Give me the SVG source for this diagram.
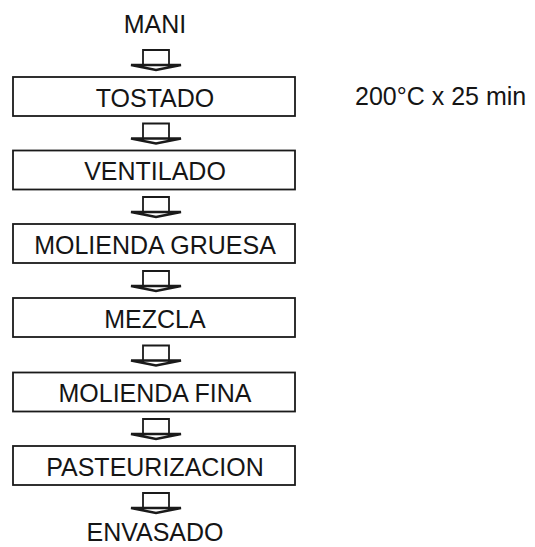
<svg xmlns="http://www.w3.org/2000/svg" xmlns:xlink="http://www.w3.org/1999/xlink" width="535" height="547" viewBox="0 0 535 547">
  <style>
    .box { fill: #ffffff; stroke: #1a1a1a; stroke-width: 1.8; }
    .lbl { font-family: "Liberation Sans", Arial, sans-serif; font-size: 25px; fill: #151515; text-anchor: middle; }
    .note { font-family: "Liberation Sans", Arial, sans-serif; font-size: 25px; fill: #151515; text-anchor: start; }
    .arrow { fill: none; stroke: #1a1a1a; stroke-width: 1.8; stroke-linejoin: miter; }
    .wing { fill: none; stroke: #1a1a1a; stroke-width: 2.4; }
  </style>
  <defs>
    <g id="blockArrow">
      <path class="arrow" d="M-13,-5 V-20 H13 V-5"/>
      <path class="wing" d="M-25,-5 H25 L0,0 Z"/>
    </g>
  </defs>
  <rect width="535" height="547" fill="#ffffff"/>

  <g id="connectors">
    <use xlink:href="#blockArrow" transform="translate(156,70)"/>
    <use xlink:href="#blockArrow" transform="translate(156,143.5)"/>
    <use xlink:href="#blockArrow" transform="translate(156,217)"/>
    <use xlink:href="#blockArrow" transform="translate(156,291)"/>
    <use xlink:href="#blockArrow" transform="translate(156,365.5)"/>
    <use xlink:href="#blockArrow" transform="translate(156,439)"/>
    <use xlink:href="#blockArrow" transform="translate(156,513)"/>
  </g>

  <g id="node-mani">
    <text class="lbl" x="155" y="33">MANI</text>
  </g>
  <g id="node-tostado">
    <rect class="box" x="13" y="77" width="282" height="39"/>
    <text class="lbl" x="155" y="106.5">TOSTADO</text>
  </g>
  <g id="node-ventilado">
    <rect class="box" x="13" y="150.5" width="282" height="39"/>
    <text class="lbl" x="155" y="180">VENTILADO</text>
  </g>
  <g id="node-molienda-gruesa">
    <rect class="box" x="13" y="224" width="282" height="39"/>
    <text class="lbl" x="155" y="253.5">MOLIENDA GRUESA</text>
  </g>
  <g id="node-mezcla">
    <rect class="box" x="13" y="298" width="282" height="39"/>
    <text class="lbl" x="155" y="327.5">MEZCLA</text>
  </g>
  <g id="node-molienda-fina">
    <rect class="box" x="13" y="372.5" width="282" height="39"/>
    <text class="lbl" x="155" y="402">MOLIENDA FINA</text>
  </g>
  <g id="node-pasteurizacion">
    <rect class="box" x="13" y="446" width="282" height="39"/>
    <text class="lbl" x="155" y="475.5">PASTEURIZACION</text>
  </g>
  <g id="node-envasado">
    <text class="lbl" x="155" y="541">ENVASADO</text>
  </g>
  <g id="note-tostado">
    <text class="note" x="355" y="105">200°C x 25 min</text>
  </g>
</svg>
